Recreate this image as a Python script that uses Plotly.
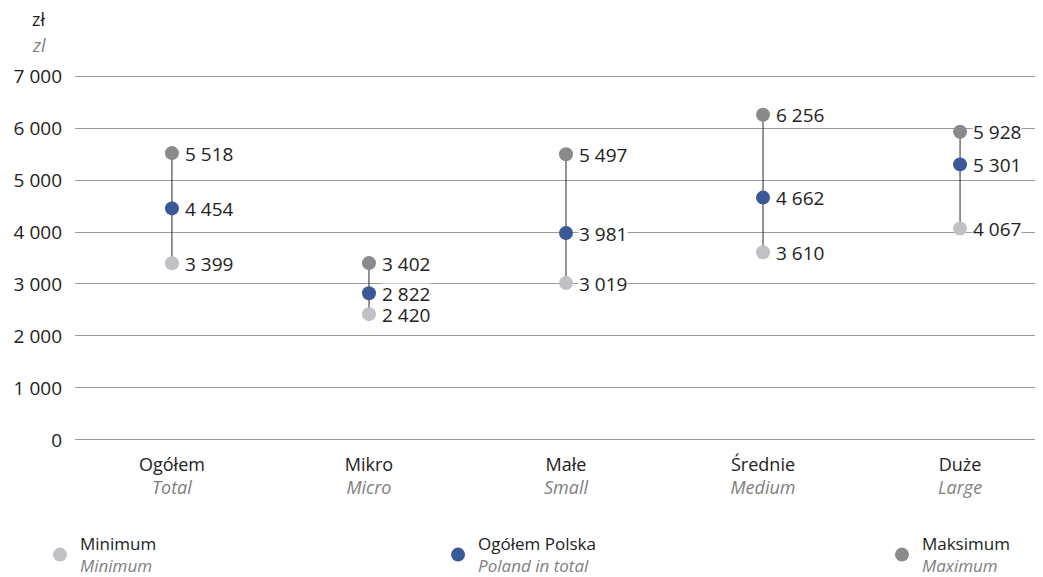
import plotly.graph_objects as go

categories = ["Ogółem", "Mikro", "Małe", "Średnie", "Duże"]
categories_en = ["Total", "Micro", "Small", "Medium", "Large"]
minimum = [3399, 2420, 3019, 3610, 4067]
poland_total = [4454, 2822, 3981, 4662, 5301]
maximum = [5518, 3402, 5497, 6256, 5928]
y_ticks = [0, 1000, 2000, 3000, 4000, 5000, 6000, 7000]

C_MIN = "#c1c1c5"
C_MEAN = "#3b5996"
C_MAX = "#8a8a8d"
FONT = "Open Sans"
FS = 19

def fmt(v):
    return f"{v:,}".replace(",", " ")

xs = list(range(len(categories)))
fig = go.Figure()

# connecting lines
lx, ly = [], []
for i in xs:
    lx += [i, i, None]
    ly += [minimum[i], maximum[i], None]
fig.add_trace(go.Scatter(x=lx, y=ly, mode="lines", line=dict(color="#2a2a2a", width=1),
                         showlegend=False, hoverinfo="skip"))

series = [
    ("Minimum", "Minimum", minimum, C_MIN, "legend"),
    ("Ogółem Polska", "Poland in total", poland_total, C_MEAN, "legend2"),
    ("Maksimum", "Maximum", maximum, C_MAX, "legend3"),
]
for pl, en, vals, col, lg in series:
    fig.add_trace(go.Scatter(
        x=xs, y=vals, mode="markers",
        marker=dict(color=col, size=14),
        name=f"{pl}<br><i><span style='color:#808080'>{en}</span></i>",
        legend=lg, showlegend=True,
    ))
    for i, v in zip(xs, vals):
        fig.add_annotation(x=i, y=v, text=fmt(v), showarrow=False,
                           xanchor="left", yanchor="middle", xshift=12,
                           bgcolor="white", borderpad=0, height=19,
                           font=dict(family=FONT, size=FS, color="#222222"))

ticktext_x = [f"{p}<br><i><span style='color:#808080'>{e}</span></i>" for p, e in zip(categories, categories_en)]

leg_common = dict(xref="container", yref="container", y=0.0387, yanchor="middle",
                  xanchor="left", bgcolor="rgba(0,0,0,0)", font=dict(family=FONT, size=17),
                  itemwidth=30)

fig.update_layout(
    width=1035, height=569,
    margin=dict(l=67, r=0, t=66, b=135, autoexpand=False),
    plot_bgcolor="white", paper_bgcolor="white",
    font=dict(family=FONT, size=FS, color="#222222"),
    xaxis=dict(range=[-0.492, 4.421], tickmode="array", tickvals=xs, ticktext=ticktext_x,
               showgrid=False, zeroline=False, showline=False, ticks="", tickangle=0,
               automargin=False, ticklabelstandoff=10,
               tickfont=dict(family=FONT, size=18, color="#222222")),
    yaxis=dict(range=[-40, 7040], tickmode="array", tickvals=y_ticks,
               ticktext=[fmt(t) for t in y_ticks], showgrid=True, gridcolor="#9a9a9a",
               gridwidth=1, zeroline=False, showline=False, ticks="",
               automargin=False, ticklabelstandoff=12,
               tickfont=dict(family=FONT, size=FS, color="#222222")),
    legend=dict(x=0.0309, **leg_common),
    legend2=dict(x=0.4155, **leg_common),
    legend3=dict(x=0.8444, **leg_common),
    showlegend=True,
)

fig.add_annotation(xref="paper", yref="paper", x=-0.047, y=1.15, xanchor="left",
                   yanchor="middle", showarrow=False,
                   text="zł", font=dict(family=FONT, size=18, color="#222222"))
fig.add_annotation(xref="paper", yref="paper", x=-0.047, y=1.078, xanchor="left",
                   yanchor="middle", showarrow=False,
                   text="<i>zl</i>", font=dict(family=FONT, size=18, color="#808080"))

fig.write_html("out.html")
